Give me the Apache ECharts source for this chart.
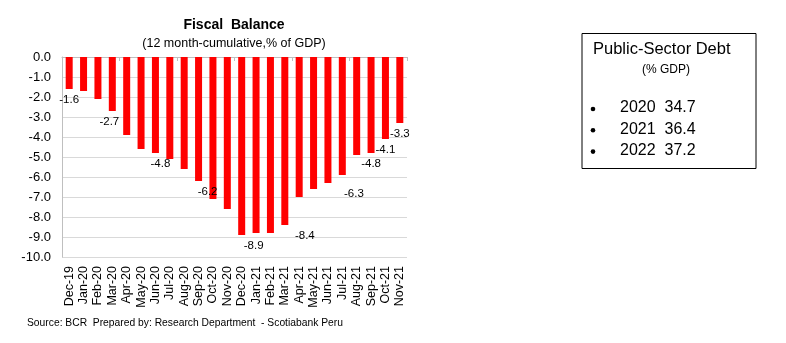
<!DOCTYPE html>
<html>
<head>
<meta charset="utf-8">
<script src="https://cdn.jsdelivr.net/npm/echarts@6/dist/echarts.min.js"></script>
<style>
  html, body { margin: 0; padding: 0; background: #ffffff; }
  #chart { width: 786px; height: 343px; }
</style>
</head>
<body>
<div id="chart"></div>
<script>
// Monthly fiscal balance, 12-month cumulative, % of GDP
const categories = ['Dec-19','Jan-20','Feb-20','Mar-20','Apr-20','May-20','Jun-20','Jul-20',
  'Aug-20','Sep-20','Oct-20','Nov-20','Dec-20','Jan-21','Feb-21','Mar-21','Apr-21','May-21',
  'Jun-21','Jul-21','Aug-21','Sep-21','Oct-21','Nov-21'];
const balance = [-1.6, -1.7, -2.1, -2.7, -3.9, -4.6, -4.8, -5.1, -5.6, -6.2, -7.1, -7.6,
  -8.9, -8.8, -8.8, -8.4, -7.0, -6.6, -6.3, -5.9, -4.9, -4.8, -4.1, -3.3];
// Months whose value is printed under the bar
const labeledMonths = ['Dec-19','Mar-20','Jun-20','Sep-20','Dec-20','Mar-21','Jun-21','Sep-21','Oct-21','Nov-21'];

// Public-sector debt panel
const debtYears = ['2020', '2021', '2022'];
const debtValues = [34.7, 36.4, 37.2];

const FONT = '"Liberation Sans", Arial, sans-serif';

// horizontal nudges for the value labels
const labelShift = { 'Mar-20': -3, 'Jun-20': 5, 'Sep-20': 9, 'Dec-20': 12, 'Mar-21': 20, 'Jun-21': 26 };

const barData = balance.map((v, i) => {
  const cat = categories[i];
  const item = { value: v };
  if (labeledMonths.includes(cat)) {
    item.label = {
      show: true,
      position: 'bottom',
      distance: 5,
      offset: [labelShift[cat] || 0, 0],
      formatter: (p) => p.value.toFixed(1),
      color: '#000',
      fontFamily: FONT,
      fontSize: 11.5
    };
  }
  return item;
});

const debtGraphics = [];
debtYears.forEach((yr, i) => {
  const y = 109 + i * 21.3;
  debtGraphics.push({
    type: 'circle', shape: { cx: 593, cy: y, r: 2.3 }, style: { fill: '#000' }
  });
  debtGraphics.push({
    type: 'text', left: 620, top: y - 9,
    style: { text: yr + '  ' + debtValues[i].toFixed(1), font: '16px ' + FONT, fill: '#000' }
  });
});

const chart = echarts.init(document.getElementById('chart'));
chart.setOption({
  backgroundColor: '#ffffff',
  animation: false,
  title: [
    { text: 'Fiscal  Balance', left: 229, top: 13, textAlign: 'center',
      textStyle: { fontFamily: FONT, fontSize: 14, fontWeight: 'bold', color: '#000' } },
    { text: '(12 month-cumulative,% of GDP)', left: 229, top: 32, textAlign: 'center',
      textStyle: { fontFamily: FONT, fontSize: 12.5, fontWeight: 'normal', color: '#000' } }
  ],
  grid: { left: 62, right: 379, top: 57, bottom: 86, containLabel: false },
  xAxis: [
    {
      type: 'category', data: categories, position: 'bottom',
      axisLine: { show: false, onZero: false },
      axisTick: { show: false },
      axisLabel: { interval: 0, rotate: 90, margin: 9, color: '#000', fontFamily: FONT, fontSize: 12.5 }
    },
    {
      type: 'category', data: categories, position: 'top',
      axisLine: { show: true, onZero: false, lineStyle: { color: '#bfbfbf', width: 1 } },
      axisTick: { show: true, inside: true, length: 4, lineStyle: { color: '#bfbfbf' } },
      axisLabel: { show: false }
    }
  ],
  yAxis: {
    type: 'value', min: -10, max: 0, interval: 1,
    axisLine: { show: true, lineStyle: { color: '#bfbfbf' } },
    axisTick: { show: false },
    axisLabel: { formatter: (v) => v.toFixed(1), color: '#000', fontFamily: FONT, fontSize: 13, margin: 11 },
    splitLine: { lineStyle: { color: '#d9d9d9', width: 1 } }
  },
  series: [{
    type: 'bar', xAxisIndex: 0, data: barData,
    barWidth: 7,
    itemStyle: { color: '#ff0000' }
  }],
  graphic: [
    { type: 'rect', shape: { x: 582, y: 33.5, width: 174, height: 135 },
      style: { fill: '#fff', stroke: '#000', lineWidth: 1 } },
    { type: 'text', left: 593, top: 41,
      style: { text: 'Public-Sector Debt', font: '16.5px ' + FONT, fill: '#000' } },
    { type: 'text', left: 642, top: 64,
      style: { text: '(% GDP)', font: '12px ' + FONT, fill: '#000' } },
    ...debtGraphics,
    { type: 'text', left: 27, top: 318,
      style: { text: 'Source: BCR  Prepared by: Research Department  - Scotiabank Peru', font: '10.3px ' + FONT, fill: '#000' } }
  ]
});
</script>
</body>
</html>
